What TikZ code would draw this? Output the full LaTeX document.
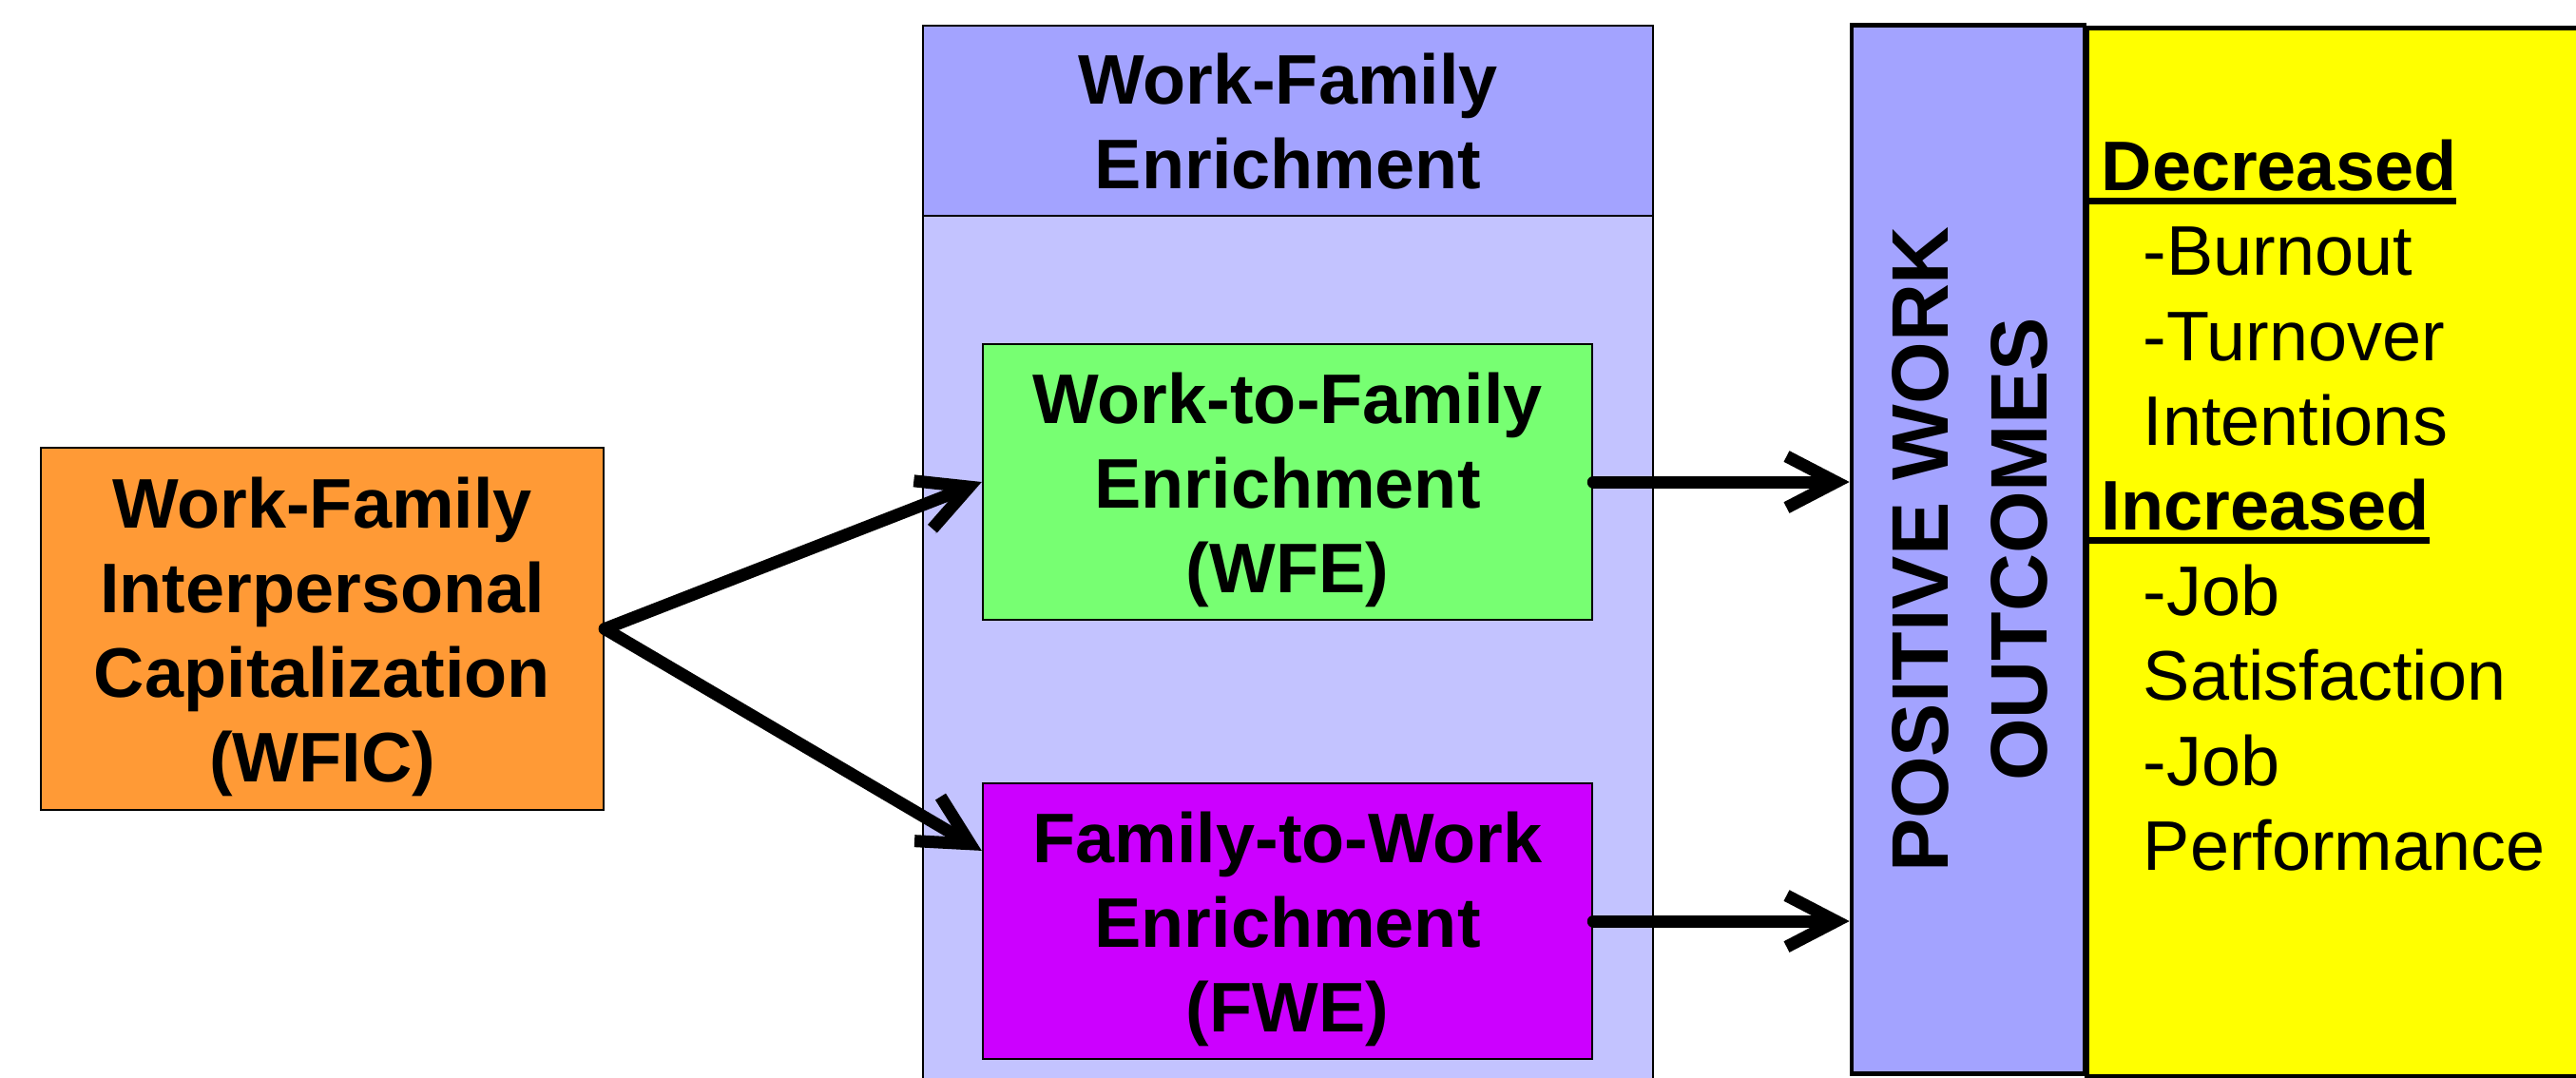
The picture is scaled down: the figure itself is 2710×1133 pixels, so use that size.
\documentclass[tikz,border=0pt]{standalone}
\usepackage{fontspec}
\setmainfont{Liberation Sans}
\usetikzlibrary{arrows.meta}
\definecolor{orng}{HTML}{FF9A36}
\definecolor{lavhead}{HTML}{A3A3FF}
\definecolor{lavbody}{HTML}{C3C3FF}
\definecolor{grn}{HTML}{77FF72}
\definecolor{purp}{HTML}{CC00FF}
\definecolor{ylw}{HTML}{FFFF00}
\newcommand\myul[1]{\setbox0=\hbox{#1}\rlap{\rule[-0.145cm]{\wd0}{0.07cm}}\box0}
\newcommand\bst{\rule[-0.21em]{0pt}{1.16em}}
\begin{document}
\begin{tikzpicture}[x=0.01cm,y=-0.01cm,
  box/.style={draw=black, line width=0.6pt, inner sep=0, align=center,
    font=\bfseries\fontsize{21}{25.3}\selectfont},
  conn/.style={line width=0.13cm, -{Straight Barb[length=0.52cm,width=0.54cm]},
    line cap=round, line join=round,
    preaction={draw=black, opacity=0.16, transform canvas={shift={(0.03cm,-0.05cm)}}}},
  outtxt/.style={anchor=base west, inner sep=0, font=\fontsize{21}{25}\selectfont},
  outhead/.style={outtxt, font=\bfseries\fontsize{21}{25}\selectfont}]
\useasboundingbox (0,0) rectangle (2710,1133);
\fill[white] (0,0) rectangle (2710,1133);
\clip (0,0) rectangle (2710,1133);

% left box
\node[box, fill=orng, minimum width=5.92cm, minimum height=3.81cm] (wfic) at (339,661.5)
  {\bst Work-Family\\\bst Interpersonal\\\bst Capitalization\\\bst (WFIC)};

% middle container
\node[draw, line width=0.6pt, fill=lavbody, minimum width=7.68cm, minimum height=9.4cm, inner sep=0] (body) at (1355,697) {};
\node[box, fill=lavhead, minimum width=7.68cm, minimum height=2cm] (head) at (1355,127)
  {\bst Work-Family\\\bst Enrichment};
\node[box, fill=grn, minimum width=6.41cm, minimum height=2.90cm] (wfe) at (1354.5,507)
  {\bst Work-to-Family\\\bst Enrichment\\\bst (WFE)};
\node[box, fill=purp, minimum width=6.41cm, minimum height=2.90cm] (fwe) at (1354.5,969)
  {\bst Family-to-Work\\\bst Enrichment\\\bst (FWE)};

% right outcomes
\node[draw, line width=1.3pt, fill=lavhead, minimum width=2.45cm, minimum height=11.02cm, inner sep=0] (pwo) at (2070.5,578) {};
\node[draw, line width=1.3pt, fill=ylw, minimum width=6cm, minimum height=11.02cm, inner sep=0, anchor=north west] (res) at (2193,27) {};
\node[rotate=90, align=center, inner sep=0, font=\bfseries\fontsize{24}{29.6}\selectfont] (pwotxt) at (2072,578) {POSITIVE WORK\\OUTCOMES};

\node[outhead] (dec) at (2194,200) {\myul{\kern0.16cm Decreased}};
\node[outtxt] (d1) at (2254,289) {-Burnout};
\node[outtxt] (d2) at (2254,379) {-Turnover};
\node[outtxt] (d3) at (2254,468) {Intentions};
\node[outhead] (inc) at (2194,557) {\myul{\kern0.16cm Increased}};
\node[outtxt] (i1) at (2254,647) {-Job};
\node[outtxt] (i2) at (2254,736) {Satisfaction};
\node[outtxt] (i3) at (2254,826) {-Job};
\node[outtxt] (i4) at (2254,915) {Performance};

% connectors
\draw[conn] (wfic.east) -- (wfe.west);
\draw[conn] (wfic.east) -- ([yshift=-0.72cm]fwe.north west);
\draw[conn] (wfe.east) -- (wfe.east -| pwo.west);
\draw[conn] (fwe.east) -- (fwe.east -| pwo.west);
\end{tikzpicture}
\end{document}
